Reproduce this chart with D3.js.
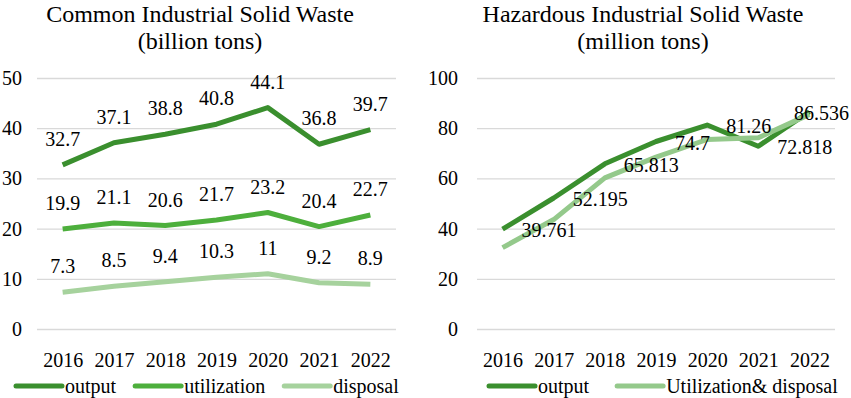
<!DOCTYPE html>
<html>
<head>
<meta charset="utf-8">
<script src="https://cdn.jsdelivr.net/npm/d3@7"></script>
<style>
  body { margin: 0; background: #fff; }
  svg text { font-family: "Liberation Serif", "Times New Roman", serif; fill: #000; }
</style>
</head>
<body>
<div id="chart"></div>
<script>
const years = ["2016", "2017", "2018", "2019", "2020", "2021", "2022"];

// common industrial solid waste (billion tons)
const commonOutput = [32.7, 37.1, 38.8, 40.8, 44.1, 36.8, 39.7];
const commonUtil = [19.9, 21.1, 20.6, 21.7, 23.2, 20.4, 22.7];
const commonDisposal = [7.3, 8.5, 9.4, 10.3, 11, 9.2, 8.9];
const commonTicks = [0, 10, 20, 30, 40, 50];

// hazardous industrial solid waste (million tons)
const hazOutput = [39.761, 52.195, 65.813, 74.7, 81.26, 72.818, 86.536];
const hazUtilDisp = [32.4, 43.6, 60.2, 68.5, 75.5, 76.2, 85.5];
const hazTicks = [0, 20, 40, 60, 80, 100];

const width = 851;
const height = 398;

const svg = d3.select("#chart")
  .append("svg")
  .attr("width", width)
  .attr("height", height);

const plotTop = 78, plotBottom = 329;

function panel(opts) {
  const x = d3.scalePoint().domain(years).range(opts.xr).padding(0.5);
  const y = d3.scaleLinear().domain([0, opts.max]).range([plotBottom, plotTop]);
  const g = svg.append("g");

  // titles
  g.append("text").attr("x", opts.cx).attr("y", 22)
    .attr("text-anchor", "middle").style("font-size", "24px").text(opts.title);
  g.append("text").attr("x", opts.cx).attr("y", 49)
    .attr("text-anchor", "middle").style("font-size", "24px").text(opts.sub);

  // grid + y labels
  const ya = g.append("g")
    .attr("transform", `translate(${opts.xr[0]},0)`)
    .call(d3.axisLeft(y).tickValues(opts.ticks).tickSize(-(opts.xr[1] - opts.xr[0])).tickPadding(opts.pad));
  ya.select(".domain").remove();
  ya.selectAll(".tick line").attr("stroke", "#d9d9d9").attr("stroke-width", 1.3);
  ya.selectAll(".tick text").style("font-size", "20px").style("font-family", "Liberation Serif");

  // x labels
  const xa = g.append("g")
    .attr("transform", `translate(0,${plotBottom})`)
    .call(d3.axisBottom(x).tickSize(0).tickPadding(24));
  xa.select(".domain").remove();
  xa.selectAll(".tick text").style("font-size", "20px").style("font-family", "Liberation Serif");

  const line = d3.line().x((d, i) => x(years[i])).y(d => y(d));

  opts.series.forEach(s => {
    g.append("path").datum(s.values)
      .attr("d", line)
      .attr("fill", "none")
      .attr("stroke", s.color)
      .attr("stroke-width", 5)
      .attr("stroke-linejoin", "round");
  });

  // legend
  let lx = opts.legX;
  opts.series.forEach(s => {
    g.append("line").attr("x1", lx).attr("x2", lx + 46)
      .attr("y1", 386).attr("y2", 386)
      .attr("stroke", s.color).attr("stroke-width", 5).attr("stroke-linecap", "round");
    const t = g.append("text").attr("x", lx + 49).attr("y", 393)
      .style("font-size", "20px").text(s.name);
    lx += 49 + t.node().getComputedTextLength() + opts.legGap;
  });

  return { g, x, y };
}

// left panel
const L = panel({
  xr: [37, 396], max: 50, ticks: commonTicks, pad: 15, cx: 200,
  title: "Common Industrial Solid Waste", sub: "(billion tons)",
  legX: 16, legGap: 19,
  series: [
    { name: "output", values: commonOutput, color: "#3a8f2e" },
    { name: "utilization", values: commonUtil, color: "#4daf3c" },
    { name: "disposal", values: commonDisposal, color: "#a6d29d" }
  ]
});

[commonOutput, commonUtil, commonDisposal].forEach(vals => {
  L.g.selectAll(null).data(vals).enter().append("text")
    .attr("x", (d, i) => L.x(years[i]))
    .attr("y", d => L.y(d) - 19)
    .attr("text-anchor", "middle")
    .style("font-size", "20px")
    .text(d => d);
});

// right panel
const R = panel({
  xr: [477, 835], max: 100, ticks: hazTicks, pad: 19, cx: 643,
  title: "Hazardous Industrial Solid Waste", sub: "(million tons)",
  legX: 489, legGap: 28,
  series: [
    { name: "output", values: hazOutput, color: "#3a8f2e" },
    { name: "Utilization& disposal", values: hazUtilDisp, color: "#94c98b" }
  ]
});

R.g.selectAll(null).data(hazOutput).enter().append("text")
  .attr("x", (d, i) => R.x(years[i]) + 19)
  .attr("y", d => R.y(d) + 8)
  .style("font-size", "20px")
  .text(d => d)
  .each(function () {
    // keep the last label inside the page
    const w = this.getComputedTextLength();
    const x0 = +d3.select(this).attr("x");
    if (x0 + w > width - 2) d3.select(this).attr("x", width - 2 - w);
  });
</script>
</body>
</html>
